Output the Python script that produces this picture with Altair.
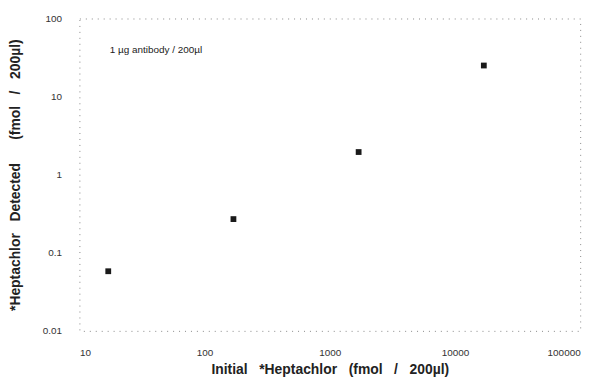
import altair as alt
import pandas as pd

initial = [17, 170, 1700, 17000]
detected = [0.058, 0.27, 1.95, 25]
x_ticks = [10, 100, 1000, 10000, 100000]
y_ticks = [0.01, 0.1, 1, 10, 100]
note_text = ["1 \u00b5g antibody / 200\u00b5l"]
note_x = [17.5]
note_y = [40]

SP = "\u00a0\u00a0\u00a0"
x_title = "Initial" + SP + "*Heptachlor" + SP + "(fmol" + SP + "/" + SP + "200\u00b5l)"
y_title = "*Heptachlor" + SP + "Detected" + SP + SP + "(fmol" + SP + "/" + SP + "200\u00b5l)"

df = pd.DataFrame({"initial": initial, "detected": detected})
note = pd.DataFrame({"x": note_x, "y": note_y, "t": note_text})

FONT = "Liberation Sans"

xscale = alt.Scale(type="log", domain=[10, 100000], nice=False)
yscale = alt.Scale(type="log", domain=[0.01, 100], nice=False)

pts = alt.Chart(df).mark_square(size=34, color="#1a1a1a", opacity=1).encode(
    x=alt.X("initial:Q", scale=xscale,
            axis=alt.Axis(values=x_ticks, format="~g", title=x_title,
                          domain=False, ticks=False, grid=False, labelPadding=17,
                          labelFont=FONT, labelFontSize=10, labelColor="#333",
                          titleFont=FONT, titleFontSize=14, titleFontWeight="bold", titleColor="#222",
                          titlePadding=5)),
    y=alt.Y("detected:Q", scale=yscale,
            axis=alt.Axis(values=y_ticks, format="~g", title=y_title,
                          domain=False, ticks=False, grid=False, labelPadding=18,
                          labelFont=FONT, labelFontSize=10, labelColor="#333",
                          titleFont=FONT, titleFontSize=14, titleFontWeight="bold", titleColor="#222",
                          titlePadding=20)),
)

txt = alt.Chart(note).mark_text(align="left", baseline="middle", font=FONT, fontSize=10, color="#222").encode(
    x=alt.X("x:Q", scale=xscale), y=alt.Y("y:Q", scale=yscale), text="t:N"
)

chart = (pts + txt).properties(width=505, height=315).configure_view(
    stroke="#888", strokeDash=[1, 5], strokeWidth=1
).properties(autosize="none", padding={"left": 72, "top": 9, "right": 20, "bottom": 52})

chart.save("out.html", embed_options={"renderer": "svg", "actions": False})
